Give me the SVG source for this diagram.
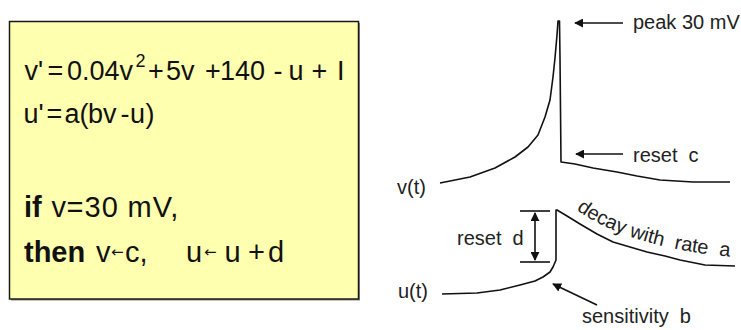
<svg xmlns="http://www.w3.org/2000/svg" width="741" height="330" viewBox="0 0 741 330">
<defs>
<style>
.eq{font-family:"Liberation Sans",Arial,sans-serif;font-size:27px;fill:#111}
.eqb{font-family:"Liberation Sans",Arial,sans-serif;font-size:29px;fill:#111}
.b{font-weight:bold}
.lab{font-family:"Liberation Sans",Arial,sans-serif;font-size:20px;fill:#222}
.arr{font-family:"DejaVu Sans",sans-serif;font-size:15px}
.curve{fill:none;stroke:#111;stroke-width:1.6;stroke-linejoin:round}
.conn{fill:none;stroke:#111;stroke-width:1.6}
</style>
<marker id="ah" viewBox="0 0 10 10" refX="9" refY="5" markerWidth="9" markerHeight="9" markerUnits="userSpaceOnUse" orient="auto-start-reverse">
<path d="M0,0 L10,5 L0,10 z" fill="#111"/>
</marker>
<path id="decayPath" d="M 574 208 C 606 232, 660 252, 745 258"/>
</defs>
<rect width="741" height="330" fill="#fff"/>

<g id="equation-box">
<rect x="11" y="23" width="349" height="277.5" fill="#8a8a8a"/>
<rect x="9.5" y="21.5" width="349" height="277.5" fill="#FFFFB0" stroke="#1a1a1a" stroke-width="1.5"/>
<text class="eq" y="80"><tspan x="24.5">v'</tspan><tspan x="47.5">=</tspan><tspan x="67">0.04v</tspan><tspan x="135.5" y="67" font-size="18">2</tspan><tspan x="148" y="80">+</tspan><tspan x="166">5v</tspan><tspan x="205">+</tspan><tspan x="220">140</tspan><tspan x="273.5">-</tspan><tspan x="288.5">u</tspan><tspan x="311.5">+</tspan><tspan x="337">I</tspan></text>
<text class="eq" y="123"><tspan x="23.5">u'</tspan><tspan x="46.5">=</tspan><tspan x="64.5">a</tspan><tspan x="79.5">(</tspan><tspan x="88">bv</tspan><tspan x="120.5">-</tspan><tspan x="130">u</tspan><tspan x="145.5">)</tspan></text>
<text class="eqb" y="217"><tspan x="24" class="b">if</tspan><tspan x="51.5">v</tspan><tspan x="66.5">=</tspan><tspan x="84.5" letter-spacing="1">30</tspan><tspan x="127.5" letter-spacing="1">mV,</tspan></text>
<text class="eqb" y="262"><tspan x="24" class="b">then</tspan><tspan x="96">v</tspan><tspan x="111" y="257" class="arr">←</tspan><tspan x="125" y="262">c,</tspan><tspan x="186">u</tspan><tspan x="204" y="257" class="arr">←</tspan><tspan x="224.5" y="262">u</tspan><tspan x="248">+</tspan><tspan x="268">d</tspan></text>
</g>

<g id="traces">
<path id="v-trace" class="curve" d="M440,183 L470,177 L495,168 L515,157 L528,147 L538,135 L545,117 L550,100 L553,77 L555,58 L557,35 L558,21 L559.5,21 L560,58 L561,162 L575,164 L593,168 L617,172 L637,176 L660,180 L693,182 L730,182"/>
<path id="u-trace" class="curve" d="M442,294 L477,293 L500,290 L520,285 L535,281 L543,277 L550,272 L553,267 L556,260 L556,210 L557,210 L567,216 L580,224 L597,234 L613,242 L630,247 L647,252 L665,256 L680,260 L705,265 L735,266"/>
<line id="d-top" class="conn" x1="520" y1="211" x2="550" y2="211"/>
<line id="d-bottom" class="conn" x1="520" y1="262" x2="550" y2="262"/>
</g>

<g id="connectors">
<line class="conn" x1="623" y1="23" x2="575" y2="23" marker-end="url(#ah)"/>
<line class="conn" x1="623" y1="154" x2="576" y2="154" marker-end="url(#ah)"/>
<line class="conn" x1="535" y1="213" x2="535" y2="260" marker-start="url(#ah)" marker-end="url(#ah)"/>
<line class="conn" x1="597" y1="305" x2="553" y2="284" marker-end="url(#ah)"/>
</g>

<g id="labels">
<text id="lbl-peak" class="lab" x="633" y="29">peak 30 mV</text>
<text id="lbl-resetc" class="lab" x="633" y="162" xml:space="preserve">reset  c</text>
<text id="lbl-v" class="lab" x="397" y="194">v(t)</text>
<text id="lbl-u" class="lab" x="398" y="298">u(t)</text>
<text id="lbl-resetd" class="lab" x="457" y="245" xml:space="preserve">reset  d</text>
<text id="lbl-sens" class="lab" x="582" y="323" xml:space="preserve">sensitivity  b</text>
<text id="lbl-decay" class="lab" font-size="19" xml:space="preserve"><textPath href="#decayPath" startOffset="3">decay with  rate  a</textPath></text>
</g>
</svg>
